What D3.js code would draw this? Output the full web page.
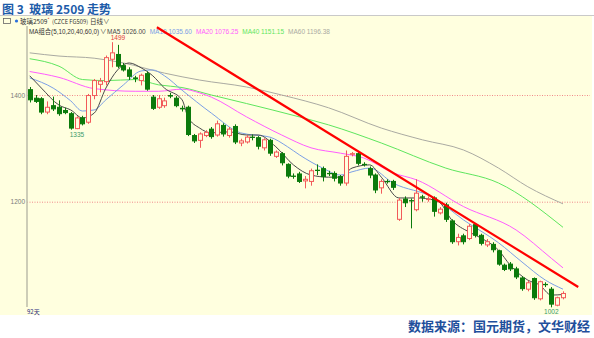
<!DOCTYPE html>
<html>
<head>
<meta charset="utf-8">
<script src="https://cdn.jsdelivr.net/npm/d3@7"></script>
<style>
body { margin: 0; background: #fff; }
svg { display: block; font-family: "Noto Sans CJK SC", "Liberation Sans", sans-serif; }
</style>
</head>
<body>
<svg width="594" height="338"></svg>
<script>
// daily bars, FG509, oldest first
var opens = [1410,1394,1393,1368,1380,1377,1371,1365,1337,1357,
    1349,1399,1420,1425,1467,1476,1455,1447,1432,1427,
    1440,1396,1377,1380,1399,1394,1375,1377,1324,1315,
    1324,1336,1325,1343,1324,1341,1310,1312,1321,1320,
    1301,1315,1285,1290,1270,1248,1252,1239,1238,1259,
    1262,1253,1253,1247,1235,1289,1290,1270,1262,1250,
    1226,1238,1238,1167,1205,1202,1185,1209,1204,1207,
    1179,1194,1164,1125,1136,1131,1157,1137,1119,1120,
    1108,1081,1083,1074,1057,1036,1056,1018,1045,1036,
    1006,1020];
var highs = [1415,1400,1396,1388,1397,1390,1376,1368,1360,1361,
    1402,1430,1432,1474,1499,1494,1460,1452,1436,1440,
    1444,1400,1400,1395,1404,1398,1380,1380,1327,1330,
    1334,1340,1352,1347,1340,1345,1318,1325,1326,1323,
    1319,1318,1296,1293,1272,1253,1256,1248,1262,1270,
    1266,1258,1257,1250,1296,1293,1293,1274,1266,1253,
    1242,1242,1241,1207,1210,1206,1242,1213,1210,1210,
    1190,1198,1167,1140,1140,1158,1160,1140,1130,1124,
    1110,1084,1087,1078,1060,1052,1058,1052,1049,1040,
    1022,1032];
var lows = [1386,1385,1364,1364,1370,1361,1364,1335,1336,1343,
    1346,1392,1405,1418,1452,1450,1444,1428,1424,1418,
    1408,1372,1374,1376,1394,1377,1369,1323,1310,1301,
    1321,1318,1322,1322,1320,1308,1304,1309,1315,1298,
    1296,1286,1282,1268,1244,1243,1235,1225,1230,1250,
    1238,1248,1238,1230,1230,1285,1268,1266,1244,1216,
    1215,1234,1222,1164,1190,1150,1182,1200,1200,1172,
    1176,1162,1121,1118,1120,1128,1133,1118,1115,1105,
    1080,1070,1070,1055,1033,1032,1016,1015,1040,1002,
    1004,1017];
var closes = [1391,1388,1368,1377,1374,1365,1367,1338,1357,1346,
    1399,1427,1426,1470,1479,1454,1447,1435,1431,1437,
    1411,1375,1393,1389,1398,1380,1374,1326,1314,1327,
    1330,1322,1346,1327,1336,1312,1314,1321,1321,1304,
    1316,1291,1293,1273,1248,1248,1238,1242,1258,1259,
    1247,1253,1244,1235,1285,1290,1272,1270,1250,1222,
    1238,1238,1227,1203,1198,1202,1216,1209,1205,1182,
    1186,1167,1125,1133,1125,1154,1137,1122,1125,1110,
    1083,1073,1074,1059,1037,1048,1020,1050,1045,1008,
    1020,1028];

// moving averages: [bar index, value]
var ma5 = [[0,1436],[2,1413],[5,1381],[7,1372],[9,1357],[11,1366],[13,1413],[15,1447],[17,1460],
    [19,1451],[21,1436],[23,1413],[26,1391],[27,1359],[29,1338],[31,1329],[34,1331],[37,1325],
    [39,1325],[42,1303],[45,1269],[48,1250],[51,1246],[53,1246],[55,1263],[58,1269],[60,1246],
    [63,1207],[66,1207],[69,1203],[70,1198],[72,1166],[75,1143],[77,1132],[80,1109],[82,1081],
    [85,1053],[87,1044],[89,1025],[91,1026]];
var ma10 = [[0,1432],[4,1413],[7,1389],[9,1370],[11,1372],[13,1391],[16,1419],[19,1445],[21,1447],
    [23,1436],[26,1409],[31,1366],[36,1329],[41,1321],[44,1303],[46,1288],[50,1263],[53,1250],
    [55,1256],[58,1263],[62,1235],[69,1207],[74,1166],[80,1123],[84,1087],[88,1053],[91,1036]];
var ma20 = [[0,1444],[5,1433],[11,1412],[18,1407],[22,1407],[26,1411],[29,1404],[31,1396],[37,1359],
    [43,1325],[48,1301],[53,1291],[57,1282],[62,1254],[66,1241],[74,1191],[83,1147],[89,1094],[91,1076]];
var ma40 = [[0,1468],[5,1454],[9,1429],[13,1427],[18,1429],[22,1419],[26,1414],[31,1400],[37,1384],
    [46,1359],[51,1344],[60,1310],[71,1263],[80,1235],[91,1152]];
var ma60 = [[0,1479],[5,1473],[11,1469],[16,1460],[23,1441],[29,1428],[37,1415],[43,1400],[51,1376],
    [60,1338],[67,1316],[74,1297],[80,1263],[85,1228],[91,1196]];

var maNames = ['MA5', 'MA10', 'MA20', 'MA40', 'MA60'];
var maLast = ['1026.00', '1035.60', '1076.25', '1151.15', '1196.38'];
var yTicks = [1200, 1400];
var markIdx = [14, 7, 89];
var markVal = [1499, 1335, 1002];
var trend = [[21.7, 1527], [93.6, 1040]];

var maColors = ['#4a4a4a', '#7b9fe6', '#ff5cff', '#5ee65e', '#aaaaa2'];
var upColor = '#f25a5a';
var downColor = '#0b7a0b';
var bg = '#ffffdf';

var svg = d3.select('svg');

svg.append('rect')
    .attr('x', 0).attr('y', 16)
    .attr('width', 592).attr('height', 299)
    .attr('fill', bg);
svg.append('line')
    .attr('x1', 0).attr('x2', 594).attr('y1', 15.5).attr('y2', 15.5)
    .attr('stroke', '#c9c9c9');

svg.append('text')
    .attr('x', 2).attr('y', 14)
    .style('white-space', 'pre')
    .attr('font-size', 12).attr('font-weight', 'bold')
    .attr('fill', '#1d5ca9')
    .text('图 3  玻璃 2509 走势');

svg.append('text')
    .attr('x', 590).attr('y', 331)
    .attr('text-anchor', 'end')
    .attr('font-size', 13).attr('font-weight', 'bold')
    .attr('fill', '#1f4f9c')
    .text('数据来源：国元期货，文华财经');

// toolbar row
var bar = svg.append('g').attr('font-size', 6.5).attr('fill', '#333');
bar.append('rect').attr('x', 3.5).attr('y', 18.5).attr('width', 7).attr('height', 5)
    .attr('fill', 'none').attr('stroke', '#666').attr('stroke-width', 0.8);
bar.append('circle').attr('cx', 16.5).attr('cy', 21).attr('r', 1.6).attr('fill', '#2a6fdc');
bar.append('text').attr('x', 20).attr('y', 23.5).text('玻璃2509');
bar.append('text').attr('x', 47.5).attr('y', 21).attr('font-size', 4.5).attr('fill', '#e03030').text('*');
bar.append('text').attr('x', 52).attr('y', 23.5).attr('font-size', 5.8).text('(CZCE FG509)');
bar.append('text').attr('x', 90).attr('y', 23.5).text('日线∨');

var x = d3.scaleLinear().domain([0, 91]).range([29.7, 563]);
var y = d3.scaleLinear().domain([1200, 1400]).range([201.7, 95]);

svg.append('defs').append('clipPath').attr('id', 'plot')
    .append('rect').attr('x', 28).attr('y', 26).attr('width', 564).attr('height', 289);

// price grid
var axis = svg.append('g')
    .attr('transform', 'translate(27,0)')
    .call(d3.axisLeft(y).tickValues(yTicks).tickSize(-563).tickPadding(2).tickFormat(d3.format('d')));
axis.select('.domain').remove();
axis.selectAll('line')
    .attr('stroke', '#f08a8a')
    .attr('stroke-dasharray', '1,1.5');
axis.selectAll('text')
    .attr('fill', '#7a7a7a')
    .attr('font-size', 6.5)
    .attr('font-family', 'Liberation Sans, sans-serif');

svg.append('line')
    .attr('x1', 27).attr('x2', 27).attr('y1', 26).attr('y2', 307)
    .attr('stroke', '#bcbcaa').attr('stroke-width', 1.5);

svg.append('text')
    .attr('x', 27).attr('y', 313.5)
    .attr('font-size', 6).attr('fill', '#2c2c80')
    .text('92天');

// legend row
var leg = svg.append('g').attr('font-size', 6.5).attr('font-family', 'Liberation Sans, "Noto Sans CJK SC", sans-serif');
leg.append('text').attr('x', 29).attr('y', 33.5).attr('fill', '#333')
    .attr('textLength', 70).attr('lengthAdjust', 'spacingAndGlyphs')
    .text('MA组合(5,10,20,40,60,0)');
leg.append('text').attr('x', 100).attr('y', 33.5).attr('fill', '#333').text('∨');
var lx = 107;
maNames.forEach(function (n, k) {
    var t = leg.append('text')
        .attr('x', lx).attr('y', 33.5)
        .attr('fill', maColors[k])
        .text(n + ' ' + maLast[k]);
    lx += t.node().getComputedTextLength() + 4;
});

var plot = svg.append('g').attr('clip-path', 'url(#plot)');

var line = d3.line()
    .x(function (d) { return x(d[0]); })
    .y(function (d) { return y(d[1]); })
    .curve(d3.curveMonotoneX);

[ma60, ma40, ma20, ma10, ma5].forEach(function (s, k) {
    plot.append('path')
        .datum(s)
        .attr('fill', 'none')
        .attr('stroke', maColors[4 - k])
        .attr('stroke-width', 1)
        .attr('d', line);
});

var bars = opens.map(function (o, i) {
    return { i: i, o: o, h: highs[i], l: lows[i], c: closes[i] };
});

var candle = plot.selectAll('g.candle')
    .data(bars)
    .enter()
    .append('g')
    .attr('class', 'candle');

function cx(d) { return Math.round(x(d.i)) + 0.5; }
function col(d) { return d.c > d.o ? upColor : downColor; }

candle.append('line')
    .attr('x1', cx).attr('x2', cx)
    .attr('y1', function (d) { return y(d.h); })
    .attr('y2', function (d) { return y(d.l); })
    .attr('stroke', col);

candle.append('rect')
    .attr('x', function (d) { return cx(d) - 2; })
    .attr('width', 4)
    .attr('y', function (d) { return y(Math.max(d.o, d.c)); })
    .attr('height', function (d) { return Math.max(0.3, Math.abs(y(d.o) - y(d.c))); })
    .attr('fill', function (d) { return d.c > d.o ? bg : downColor; })
    .attr('stroke', col)
    .attr('stroke-width', 1);

plot.append('path')
    .datum(trend)
    .attr('fill', 'none')
    .attr('stroke', '#ff0000')
    .attr('stroke-width', 2.2)
    .attr('d', d3.line()
        .x(function (d) { return x(d[0]); })
        .y(function (d) { return y(d[1]); }));

// high / low marks
markIdx.forEach(function (idx, k) {
    var isHigh = markVal[k] === highs[idx];
    svg.append('text')
        .attr('x', k === 2 ? x(idx) : x(idx) - 1)
        .attr('y', isHigh ? y(markVal[k]) - 2 : y(markVal[k]) + 7)
        .attr('text-anchor', k === 2 ? 'middle' : 'start')
        .attr('font-size', 6.5)
        .attr('font-family', 'Liberation Sans, sans-serif')
        .attr('fill', isHigh ? '#e03a3a' : '#3a9a6a')
        .text(markVal[k]);
});
</script>
</body>
</html>
